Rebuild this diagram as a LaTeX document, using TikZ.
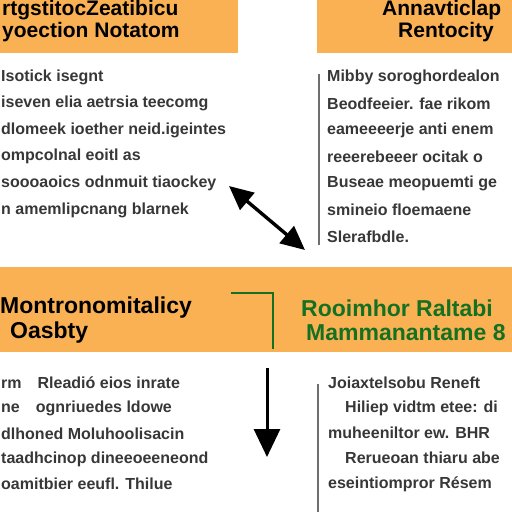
\documentclass[tikz,border=0pt]{standalone}
\usepackage{fontspec}
\setmainfont{Liberation Sans}
\definecolor{boxorange}{RGB}{250,177,84}
\definecolor{txtgray}{RGB}{55,55,55}
\definecolor{rulegray}{RGB}{110,110,110}
\definecolor{bandgreen}{RGB}{22,112,34}
\usetikzlibrary{arrows.meta,positioning}

\tikzset{
  hdr/.style={font=\fontsize{21}{23}\selectfont\bfseries, inner sep=0pt, anchor=west},
  bighdr/.style={hdr, font=\fontsize{23}{25}\selectfont\bfseries},
  body/.style={font=\fontsize{16}{18}\selectfont\bfseries, txtgray, inner sep=0pt, anchor=west},
  band/.style={fill=boxorange, draw=none}
}

\begin{document}
\begin{tikzpicture}[x=1pt, y=-1pt]
        \useasboundingbox (0,0) rectangle (512,512);
        \clip (0,0) rectangle (512,512);
        % Header boxes
        \fill[band] (0,0) rectangle (238,53);
        \fill[band] (317,0) rectangle (512,53);
        \fill[band] (0,267) rectangle (512,352);
        \node[hdr] (tlA) at (2,10) {rtgstitocZeatibicu};
        \node[hdr] (tlB) at (2,32) {yoection Notatom};
        \node[hdr] (trA) at (382,10) {Annavticlap};
        \node[hdr] (trB) at (398,32) {Rentocity};
        % Upper paragraphs
        \foreach \t [count=\i] in {Isotick isegnt, iseven elia aetrsia teecomg,
            dlomeek ioether neid.igeintes, ompcolnal eoitl as,
            soooaoics odnmuit tiaockey, n amemlipcnang blarnek} {
          \node[body] (tl\i) at (1, 77+\i*26.6-26.6) {\t};
        }
        \draw[rulegray, line width=1.2pt] (319,74) -- (319,245);
        \foreach \t [count=\i] in {Mibby soroghordealon, Beodfeeier. fae rikom,
            eameeeerje anti enem, reeerebeeer ocitak o,
            Buseae meopuemti ge, smineio floemaene, Slerafbdle.} {
          \node[body] (tr\i) at (327, 77+\i*26.6-26.6) {\t};
        }
        % Double arrow between the columns
        \coordinate (dA) at (229,186);
        \coordinate (dB) at (305,250);
        \draw[line width=3.4pt, {Triangle[length=24pt,width=22pt]}-{Triangle[length=24pt,width=22pt]}] (dA) -- (dB);
        % Middle band
        \node[bighdr] (mlA) at (0,308) {Montronomitalicy};
        \node[bighdr] (mlB) at (10,333) {Oasbty};
        \draw[bandgreen, line width=2pt] (231,293) -- (273,293) -- (273,349);
        \node[bighdr, bandgreen] (mrA) at (301,308) {Rooimhor Raltabi};
        \node[bighdr, bandgreen] (mrB) at (306,333) {Mammanantame 8};
        % Lower paragraphs
        \foreach \t [count=\i] in {rm\quad Rleadi\'o eios inrate, ne\quad ognriuedes ldowe,
            dlhoned Moluhoolisacin, taadhcinop dineeoeeneond, oamitbier eeufl. Thilue} {
          \node[body] (bl\i) at (1, 383+\i*25.3-25.3) {\t};
        }
        \coordinate (vA) at (267,368);
        \coordinate (vB) at (267,457);
        \draw[line width=3pt, -{Triangle[length=28pt,width=26pt]}] (vA) -- (vB);
        \draw[rulegray, line width=1.2pt] (318,384) -- (318,512);
        \node[body] (br1) at (328,383) {Joiaxtelsobu Reneft};
        \node[body] (br2) at (345,408) {Hiliep vidtm etee: di};
        \node[body] (br3) at (328,433) {muheeniltor ew. BHR};
        \node[body] (br4) at (345,458) {Rerueoan thiaru abe};
        \node[body] (br5) at (328,484) {eseintiompror R\'esem};
      \end{tikzpicture}
\end{document}
